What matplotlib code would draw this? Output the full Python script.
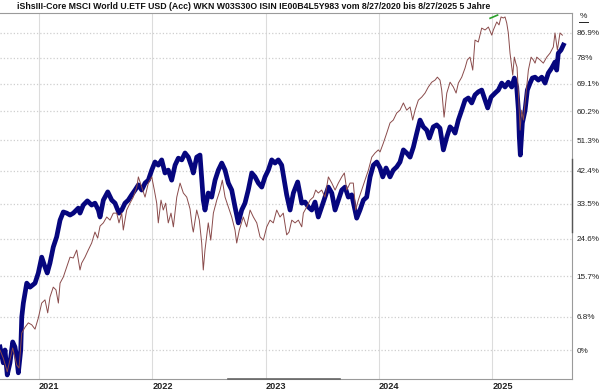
import numpy as np
import matplotlib
matplotlib.use("Agg")
import matplotlib.pyplot as plt
from matplotlib.lines import Line2D
from matplotlib.ticker import NullLocator

# time axis in decimal years, values in % performance since 8/27/2020
etf_years = [
    2020.656, 2020.685, 2020.720, 2020.768, 2020.803, 2020.824, 2020.848, 2020.877, 2020.906, 2020.936,
    2020.965, 2020.994, 2021.024, 2021.053, 2021.077, 2021.097, 2021.126, 2021.150, 2021.171, 2021.186,
    2021.215, 2021.245, 2021.274, 2021.303, 2021.333, 2021.362, 2021.377, 2021.406, 2021.435, 2021.465,
    2021.494, 2021.518, 2021.539, 2021.568, 2021.598, 2021.627, 2021.656, 2021.686, 2021.706, 2021.730,
    2021.744, 2021.774, 2021.803, 2021.832, 2021.863, 2021.877, 2021.907, 2021.936, 2021.965, 2021.995,
    2022.018, 2022.039, 2022.053, 2022.077, 2022.097, 2022.118, 2022.141, 2022.165, 2022.186, 2022.216,
    2022.245, 2022.274, 2022.304, 2022.333, 2022.353, 2022.362, 2022.392, 2022.415, 2022.436, 2022.450,
    2022.465, 2022.494, 2022.516, 2022.539, 2022.569, 2022.598, 2022.618, 2022.642, 2022.671, 2022.701,
    2022.730, 2022.745, 2022.768, 2022.803, 2022.833, 2022.863, 2022.892, 2022.922, 2022.951, 2022.980,
    2023.010, 2023.039, 2023.068, 2023.098, 2023.127, 2023.156, 2023.186, 2023.207, 2023.231, 2023.260,
    2023.289, 2023.319, 2023.333, 2023.363, 2023.392, 2023.421, 2023.442, 2023.465, 2023.495, 2023.524,
    2023.554, 2023.584, 2023.613, 2023.642, 2023.672, 2023.695, 2023.716, 2023.745, 2023.774, 2023.795,
    2023.818, 2023.848, 2023.877, 2023.907, 2023.937, 2023.966, 2023.995, 2024.010, 2024.039, 2024.069,
    2024.098, 2024.127, 2024.157, 2024.186, 2024.216, 2024.245, 2024.275, 2024.298, 2024.319, 2024.348,
    2024.378, 2024.407, 2024.436, 2024.466, 2024.495, 2024.516, 2024.539, 2024.554, 2024.575, 2024.599,
    2024.628, 2024.657, 2024.681, 2024.701, 2024.731, 2024.760, 2024.780, 2024.804, 2024.828, 2024.848,
    2024.877, 2024.907, 2024.937, 2024.966, 2024.996, 2025.010, 2025.040, 2025.060, 2025.078, 2025.098,
    2025.113, 2025.128, 2025.142, 2025.157, 2025.172, 2025.181, 2025.195, 2025.208, 2025.219, 2025.231,
    2025.246, 2025.260, 2025.275, 2025.290, 2025.319, 2025.343, 2025.363, 2025.378, 2025.393, 2025.422,
    2025.451, 2025.481, 2025.510, 2025.539, 2025.554, 2025.575, 2025.598, 2025.619,
]
etf_pct = [
    0.0, -1.6, -4.2, 0.4, -2.9, -3.5, 3.4, 4.6, 5.5, 5.1,
    4.2, 6.5, 9.7, 10.4, 7.6, 11.0, 13.2, 12.6, 9.7, 14.1,
    15.5, 17.8, 20.1, 19.9, 21.8, 17.1, 18.7, 20.1, 21.8, 23.5,
    26.2, 24.7, 27.7, 28.5, 30.0, 29.2, 31.0, 31.0, 28.5, 31.0,
    26.7, 31.8, 33.6, 35.2, 37.9, 40.7, 37.9, 35.2, 39.0, 40.7,
    37.1, 33.6, 28.5, 34.4, 31.8, 33.6, 28.5, 31.0, 27.5, 35.2,
    39.0, 36.3, 35.2, 32.1, 27.5, 26.2, 31.8, 29.2, 23.5, 17.1,
    21.8, 28.5, 24.2, 31.0, 34.4, 37.1, 39.8, 35.2, 32.6, 30.0,
    26.7, 23.5, 26.7, 30.0, 27.5, 31.8, 30.0, 28.5, 25.0, 24.2,
    27.5, 29.2, 28.5, 31.8, 30.0, 31.0, 25.5, 26.2, 29.2, 28.5,
    29.2, 27.5, 31.0, 32.6, 34.4, 35.2, 37.1, 36.3, 37.1, 35.2,
    40.7, 39.0, 37.1, 39.0, 40.7, 41.8, 37.1, 39.0, 39.0, 31.8,
    34.4, 37.1, 39.8, 42.6, 46.3, 47.5, 48.4, 47.8, 50.4, 53.4,
    56.5, 57.4, 59.6, 60.5, 62.8, 60.5, 61.5, 57.4, 60.5, 63.7,
    64.7, 66.0, 68.0, 69.6, 70.3, 71.3, 70.3, 67.0, 58.3, 66.0,
    69.6, 68.0, 66.0, 69.3, 71.3, 74.4, 77.2, 78.2, 73.7, 84.3,
    83.6, 88.7, 88.0, 89.1, 86.1, 88.0, 91.0, 89.9, 92.9, 92.5,
    92.9, 90.6, 86.9, 79.6, 74.7, 72.0, 78.2, 76.1, 74.7, 66.0,
    54.3, 60.5, 57.4, 62.8, 73.7, 78.2, 77.2, 76.1, 78.2, 77.2,
    76.1, 78.2, 79.6, 81.8, 86.9, 80.7, 86.9, 86.1,
]

bench_years = [
    2020.656, 2020.685, 2020.700, 2020.720, 2020.744, 2020.768, 2020.788, 2020.803, 2020.818, 2020.839,
    2020.848, 2020.862, 2020.892, 2020.921, 2020.965, 2020.994, 2021.024, 2021.053, 2021.073, 2021.097,
    2021.126, 2021.156, 2021.186, 2021.215, 2021.245, 2021.274, 2021.303, 2021.347, 2021.362, 2021.391,
    2021.427, 2021.465, 2021.494, 2021.524, 2021.539, 2021.568, 2021.607, 2021.642, 2021.671, 2021.706,
    2021.730, 2021.759, 2021.788, 2021.818, 2021.848, 2021.877, 2021.907, 2021.936, 2021.965, 2021.995,
    2022.024, 2022.053, 2022.083, 2022.112, 2022.141, 2022.171, 2022.201, 2022.230, 2022.260, 2022.289,
    2022.318, 2022.348, 2022.362, 2022.392, 2022.421, 2022.450, 2022.465, 2022.494, 2022.524, 2022.554,
    2022.583, 2022.613, 2022.642, 2022.671, 2022.701, 2022.730, 2022.759, 2022.789, 2022.818, 2022.847,
    2022.878, 2022.907, 2022.936, 2022.966, 2022.995, 2023.024, 2023.054, 2023.083, 2023.112, 2023.142,
    2023.186, 2023.216, 2023.245, 2023.283, 2023.319, 2023.348, 2023.377, 2023.407, 2023.436, 2023.465,
    2023.495, 2023.524, 2023.554, 2023.584, 2023.613, 2023.642, 2023.672, 2023.701, 2023.730, 2023.760,
    2023.789, 2023.804, 2023.833, 2023.863, 2023.892, 2023.922, 2023.951, 2023.981, 2024.010, 2024.034,
    2024.063, 2024.098, 2024.127, 2024.157, 2024.186, 2024.216, 2024.245, 2024.275, 2024.304, 2024.334,
    2024.363, 2024.392, 2024.422, 2024.445, 2024.480, 2024.510, 2024.539, 2024.569, 2024.599, 2024.628,
    2024.657, 2024.672, 2024.701, 2024.731, 2024.760, 2024.789, 2024.819, 2024.848, 2024.877, 2024.907,
    2024.937, 2024.960, 2024.990, 2025.025, 2025.054, 2025.084, 2025.113, 2025.142, 2025.172, 2025.195,
    2025.216, 2025.231, 2025.239, 2025.248, 2025.266, 2025.290, 2025.310, 2025.334, 2025.354, 2025.378,
    2025.407, 2025.437, 2025.466, 2025.495, 2025.525, 2025.554, 2025.569, 2025.583, 2025.607, 2025.628,
]
bench_pct = [
    0.6, -2.5, 0.0, -4.8, -2.5, 1.6, 0.6, -1.4, -4.4, 0.0,
    6.7, 9.7, 14.1, 13.2, 14.1, 16.4, 20.1, 17.8, 16.4, 18.7,
    22.5, 25.0, 29.2, 31.3, 31.0, 30.5, 31.0, 32.3, 31.0, 33.1,
    34.2, 33.1, 33.6, 31.8, 30.0, 34.4, 36.6, 34.4, 33.6, 31.0,
    31.8, 33.6, 34.4, 35.8, 37.1, 38.5, 37.1, 39.0, 39.8, 42.6,
    44.9, 44.0, 45.5, 41.8, 42.6, 39.8, 44.0, 46.0, 45.5, 47.5,
    46.3, 43.5, 41.8, 46.3, 46.9, 34.4, 31.8, 36.3, 35.2, 39.8,
    42.6, 44.6, 42.6, 39.0, 37.1, 32.6, 28.5, 31.8, 33.6, 37.1,
    41.8, 40.7, 39.0, 37.9, 40.7, 42.6, 45.5, 44.6, 45.5, 44.0,
    35.8, 31.8, 36.3, 39.3, 33.6, 33.9, 32.6, 31.8, 33.9, 30.0,
    32.6, 35.2, 37.9, 36.3, 31.8, 34.4, 37.1, 37.9, 35.2, 35.8,
    31.8, 29.7, 31.8, 34.4, 35.2, 40.7, 44.0, 44.9, 43.2, 40.7,
    43.2, 40.7, 42.6, 43.5, 44.9, 48.4, 47.5, 46.3, 49.2, 53.4,
    57.4, 55.3, 54.3, 51.9, 55.3, 55.9, 54.9, 48.4, 52.2, 55.3,
    54.3, 53.4, 57.4, 60.5, 63.7, 64.4, 62.8, 65.4, 66.4, 67.0,
    63.7, 61.2, 64.7, 66.0, 67.0, 69.3, 68.0, 69.6, 68.0, 71.0,
    68.0, 60.5, 52.2, 46.9, 56.5, 60.5, 67.0, 69.3, 71.0, 71.3,
    70.3, 71.3, 69.3, 72.7, 74.4, 76.5, 73.7, 79.6, 80.7, 82.5,
]

peak_years = [2024.981, 2025.047]
peak_pct = [92.4, 93.6]

tick_pct = [0, 6.8, 15.7, 24.6, 33.5, 42.4, 51.3, 60.2, 69.1, 78, 86.9]
tick_labels = ["0%", "6.8%", "15.7%", "24.6%", "33.5%", "42.4%", "51.3%", "60.2%", "69.1%", "78%", "86.9%"]
year_ticks = [2021, 2022, 2023, 2024, 2025]

title = ("iShsIII-Core MSCI World U.ETF USD (Acc) WKN W03S30O ISIN IE00B4L5Y983 "
         "vom 8/27/2020 bis 8/27/2025 5 Jahre")

plt.rcParams["font.family"] = ["Liberation Sans", "DejaVu Sans"]

fig = plt.figure(figsize=(6.0, 3.92), dpi=100)
ax = fig.add_axes([0.0, 13 / 392, 572 / 600, (379 - 12.5) / 392])

to_idx = lambda p: 1 + np.asarray(p) / 100.0

ax.plot(etf_years, to_idx(etf_pct), color="#8a4b4b", linewidth=0.7, zorder=3)
ax.plot(bench_years, to_idx(bench_pct), color="#06067e", linewidth=3.4,
        solid_joinstyle="round", zorder=2)
ax.plot(peak_years, to_idx(peak_pct), color="#2aa02a", linewidth=1.2, zorder=4)

ax.set_yscale("log")
ax.set_ylim(to_idx(-5.56), to_idx(94.6))
ax.set_xlim(2020.656, 2025.704)

ax.yaxis.set_minor_locator(NullLocator())
ax.set_yticks(to_idx(tick_pct))
ax.set_yticklabels(tick_labels)
ax.yaxis.tick_right()
ax.tick_params(axis="y", length=0, pad=3.2, labelsize=5.9, labelcolor="#222222")

ax.set_xticks(year_ticks)
ax.set_xticklabels([str(y) for y in year_ticks])
for lab in ax.get_xticklabels():
    lab.set_horizontalalignment("left")
    lab.set_fontweight("bold")
ax.tick_params(axis="x", length=0, pad=2, labelsize=6.6, labelcolor="#222222")

ax.grid(axis="y", color="#cfcfcf", linestyle=":", linewidth=0.9)
ax.grid(axis="x", color="#dcdcdc", linestyle="-", linewidth=0.8)

ax.spines["left"].set_visible(False)
for side in ["top", "right", "bottom"]:
    ax.spines[side].set_color("#9a9a9a")
    ax.spines[side].set_linewidth(0.8)

# darker scroll markers along the right and bottom frame
ax.plot([1, 1], [0.40, 0.60], transform=ax.transAxes, color="#555555",
        linewidth=1.0, clip_on=False, zorder=5)
ax.plot([228 / 572, 340 / 572], [0, 0], transform=ax.transAxes, color="#666666",
        linewidth=1.2, clip_on=False, zorder=5)

fig.text(0.422, 1 - 6.5 / 392, title, ha="center", va="center",
         fontsize=6.3, fontweight="bold", color="#111111")
fig.text(580 / 600, 1 - 17 / 392, "%", ha="left", va="center",
         fontsize=6.0, color="#222222")
fig.add_artist(Line2D([579 / 600, 588 / 600], [1 - 21.5 / 392, 1 - 21.5 / 392],
                      color="#222222", linewidth=0.7))

fig.savefig("out.png", dpi=100)
